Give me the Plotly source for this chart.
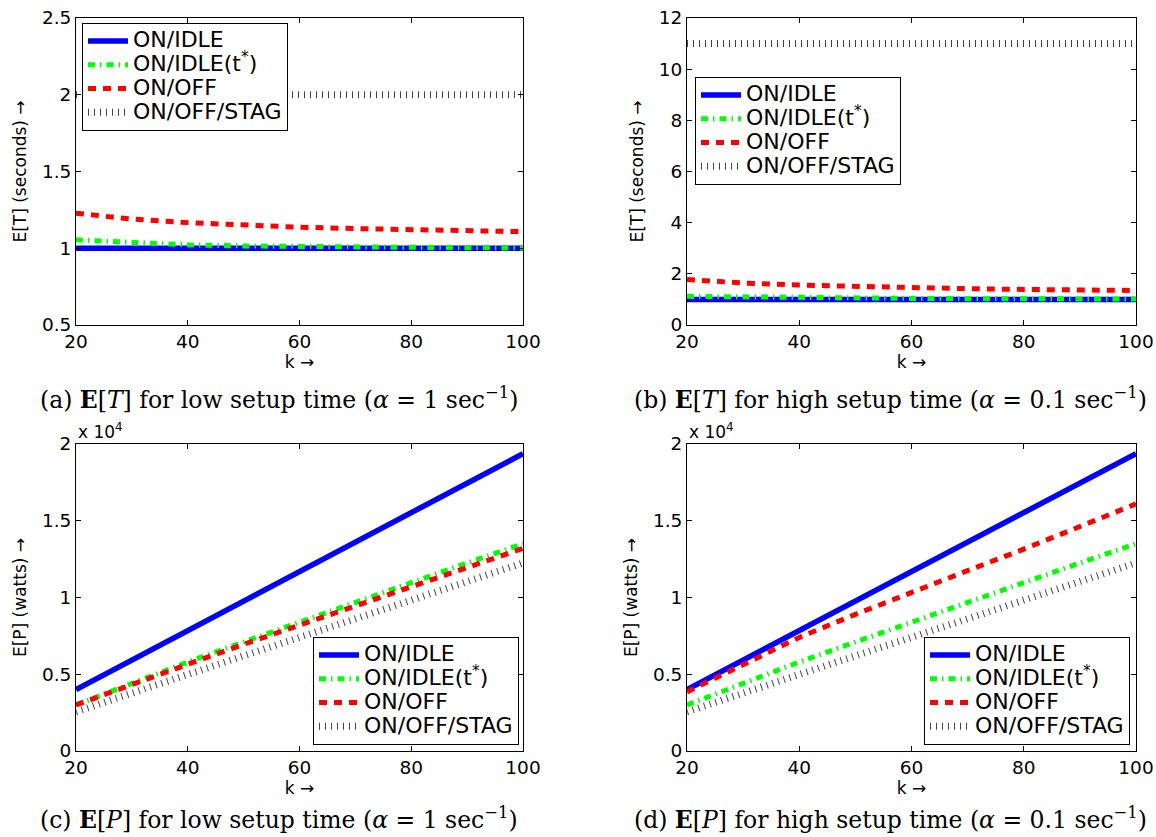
import plotly.graph_objects as go

# ---------------- data ----------------
k = [20, 30, 40, 50, 60, 70, 80, 90, 100]

series_names = ["ON/IDLE", "ON/IDLE(t<sup>*</sup>)", "ON/OFF", "ON/OFF/STAG"]

# (a) E[T], low setup time (seconds)
a_on_idle = [1.0, 1.0, 1.0, 1.0, 1.0, 1.0, 1.0, 1.0, 1.0]
a_on_idle_t = [1.055, 1.035, 1.022, 1.015, 1.010, 1.007, 1.005, 1.003, 1.002]
a_on_off = [1.228, 1.190, 1.167, 1.150, 1.137, 1.128, 1.120, 1.114, 1.108]
a_stag = [2.0, 2.0, 2.0, 2.0, 2.0, 2.0, 2.0, 2.0, 2.0]

# (b) E[T], high setup time (seconds)
b_on_idle = [1.0, 1.0, 1.0, 1.0, 1.0, 1.0, 1.0, 1.0, 1.0]
b_on_idle_t = [1.12, 1.09, 1.065, 1.05, 1.04, 1.03, 1.025, 1.02, 1.015]
b_on_off = [1.78, 1.64, 1.56, 1.50, 1.46, 1.42, 1.39, 1.37, 1.35]
b_stag = [11.0, 11.0, 11.0, 11.0, 11.0, 11.0, 11.0, 11.0, 11.0]

# (c) E[P], low setup time (watts)
c_on_idle = [4000, 5920, 7840, 9760, 11690, 13610, 15530, 17450, 19370]
c_on_idle_t = [3000, 4400, 5800, 7100, 8400, 9700, 11000, 12250, 13500]
c_on_off = [3000, 4350, 5650, 6950, 8200, 9450, 10700, 11950, 13200]
c_stag = [2550, 3800, 5000, 6200, 7400, 8600, 9800, 11050, 12250]

# (d) E[P], high setup time (watts)
d_on_idle = [4000, 5920, 7840, 9760, 11690, 13610, 15530, 17450, 19370]
d_on_idle_t = [3000, 4400, 5800, 7100, 8400, 9700, 11000, 12250, 13500]
d_on_off = [3850, 5650, 7400, 8900, 10350, 11750, 13150, 14600, 16100]
d_stag = [2550, 3800, 5000, 6200, 7400, 8600, 9800, 11050, 12250]

x_ticks = [20, 40, 60, 80, 100]
a_yticks = [0.5, 1, 1.5, 2, 2.5]
a_yticklabels = ["0.5", "1", "1.5", "2", "2.5"]
b_yticks = [0, 2, 4, 6, 8, 10, 12]
b_yticklabels = ["0", "2", "4", "6", "8", "10", "12"]
p_yticks = [0, 5000, 10000, 15000, 20000]
p_yticklabels = ["0", "0.5", "1", "1.5", "2"]

captions = [
    "(a) <b>E</b>[<i>T</i>] for low setup time (<i>α</i> = 1 sec<sup>−1</sup>)",
    "(b) <b>E</b>[<i>T</i>] for high setup time (<i>α</i> = 0.1 sec<sup>−1</sup>)",
    "(c) <b>E</b>[<i>P</i>] for low setup time (<i>α</i> = 1 sec<sup>−1</sup>)",
    "(d) <b>E</b>[<i>P</i>] for high setup time (<i>α</i> = 0.1 sec<sup>−1</sup>)",
]

# ---------------- layout helpers ----------------
W, H = 1156, 837


def px(x):
    return x / W


def py(y):
    return 1 - y / H


SANS = "DejaVu Sans"
SERIF = "DejaVu Serif"
styles = [
    dict(color="#0000ff", width=5.5, dash="solid"),
    dict(color="#00ff00", width=5, dash="7px,5px,1.5px,5px"),
    dict(color="#ff0000", width=5, dash="8px,7px"),
    dict(color="#444444", width=7, dash="1px,5px"),
]

xdom_left = [px(76), px(523)]
xdom_right = [px(687), px(1136)]
ydom_top = [py(325), py(18)]
ydom_bot = [py(751), py(444)]

panels = [
    dict(data=[a_on_idle, a_on_idle_t, a_on_off, a_stag], xd=xdom_left, yd=ydom_top,
         yr=[0.5, 2.5], yt=a_yticks, ytt=a_yticklabels, ytitle="E[T] (seconds) →",
         leg=dict(x=px(82), y=py(23), xanchor="left", yanchor="top"), cap_y=398),
    dict(data=[b_on_idle, b_on_idle_t, b_on_off, b_stag], xd=xdom_right, yd=ydom_top,
         yr=[0, 12], yt=b_yticks, ytt=b_yticklabels, ytitle="E[T] (seconds) →",
         leg=dict(x=px(695), y=py(77), xanchor="left", yanchor="top"), cap_y=398),
    dict(data=[c_on_idle, c_on_idle_t, c_on_off, c_stag], xd=xdom_left, yd=ydom_bot,
         yr=[0, 20000], yt=p_yticks, ytt=p_yticklabels, ytitle="E[P] (watts) →",
         leg=dict(x=px(519), y=py(745), xanchor="right", yanchor="bottom"), cap_y=818),
    dict(data=[d_on_idle, d_on_idle_t, d_on_off, d_stag], xd=xdom_right, yd=ydom_bot,
         yr=[0, 20000], yt=p_yticks, ytt=p_yticklabels, ytitle="E[P] (watts) →",
         leg=dict(x=px(1130), y=py(745), xanchor="right", yanchor="bottom"), cap_y=818),
]

fig = go.Figure()
layout = dict(
    template="none",
    width=W, height=H, margin=dict(l=0, r=0, t=0, b=0, pad=0, autoexpand=False),
    paper_bgcolor="white", plot_bgcolor="white",
    font=dict(family=SANS, color="black"),
    annotations=[],
)

for i, p in enumerate(panels):
    n = i + 1
    sfx = "" if n == 1 else str(n)
    legname = "legend" if n == 1 else f"legend{n}"
    for s, (vals, st) in enumerate(zip(p["data"], styles)):
        fig.add_trace(go.Scatter(
            x=k, y=vals, mode="lines",
            name=f'<span style="font-size:22px">{series_names[s]}</span>',
            line=st, xaxis=f"x{sfx}", yaxis=f"y{sfx}", legend=legname,
        ))
    axcommon = dict(showline=True, linecolor="black", linewidth=1, mirror="ticks",
                    ticks="inside", ticklen=5, tickcolor="black", tickwidth=1,
                    showgrid=False, zeroline=False, automargin=False,
                    ticklabeloverflow="allow",
                    tickfont=dict(family=SANS, size=18.5, color="black"))
    layout[f"xaxis{sfx}"] = dict(axcommon, domain=p["xd"], range=[20, 100], tickvals=x_ticks,
                                 anchor=f"y{sfx}",
                                 title=dict(text="k →", font=dict(family=SANS, size=17), standoff=4))
    layout[f"yaxis{sfx}"] = dict(axcommon, domain=p["yd"], range=p["yr"], tickvals=p["yt"],
                                 ticktext=p["ytt"], anchor=f"x{sfx}",
                                 title=dict(text=p["ytitle"], font=dict(family=SANS, size=17), standoff=10))
    layout[legname] = dict(p["leg"], bgcolor="white", bordercolor="black", borderwidth=1,
                           font=dict(family=SANS, size=16, color="black"),
                           itemwidth=40, tracegroupgap=0, traceorder="normal")
    # caption, centred slightly left of the plot centre (under the whole sub-figure)
    cx = (p["xd"][0] + p["xd"][1]) / 2 - 21 / W
    layout["annotations"].append(dict(
        text=captions[i], xref="paper", yref="paper", x=cx, y=py(p["cap_y"]),
        xanchor="center", yanchor="middle", showarrow=False,
        font=dict(family=SERIF, size=23.5, color="black")))
    if n >= 3:
        layout["annotations"].append(dict(
            text="x 10<sup>4</sup>", xref="paper", yref="paper", x=p["xd"][0], y=p["yd"][1],
            xanchor="left", yanchor="bottom", showarrow=False,
            font=dict(family=SANS, size=17, color="black")))

fig.update_layout(**layout)
fig.write_html(
    "out.html",
    config={"displayModeBar": False},
    post_script="document.documentElement.style.margin='0';document.body.style.margin='0';"
                "document.body.style.overflow='hidden';",
)
